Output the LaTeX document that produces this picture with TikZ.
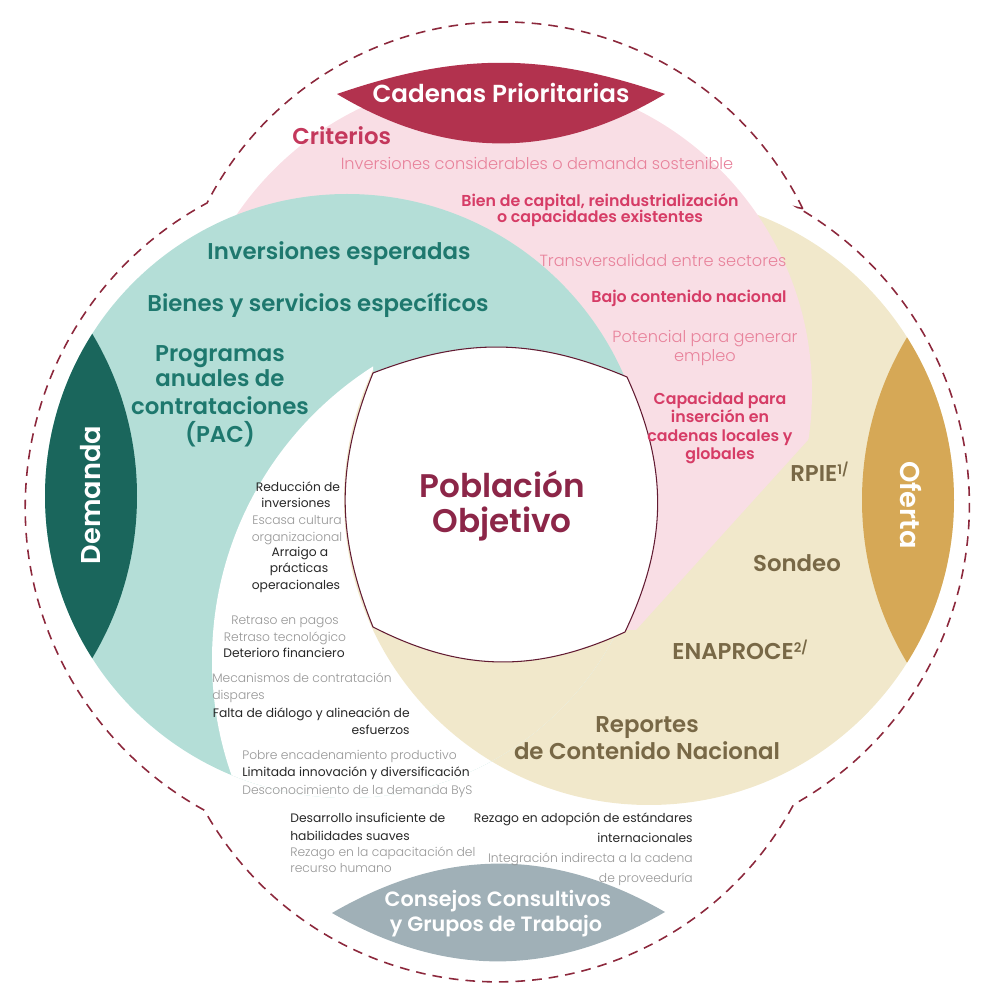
\documentclass[tikz,border=0pt]{standalone}
\usepackage{fontspec}
\setmainfont{Poppins}[BoldFont={Poppins SemiBold}]
\newfontfamily\poplight{Poppins Light}
\usepackage{tikz}
\usetikzlibrary{positioning}

\definecolor{pinkbg}{RGB}{249,222,229}
\definecolor{tealbg}{RGB}{180,222,215}
\definecolor{beigebg}{RGB}{241,232,203}
\definecolor{cadenasred}{RGB}{178,50,78}
\definecolor{demandagreen}{RGB}{26,102,92}
\definecolor{ofertagold}{RGB}{214,168,86}
\definecolor{consejosgray}{RGB}{160,176,183}
\definecolor{pinkhead}{RGB}{196,56,92}
\definecolor{pinkbold}{RGB}{214,60,102}
\definecolor{pinklite}{RGB}{232,130,155}
\definecolor{tealtext}{RGB}{30,120,110}
\definecolor{beigetext}{RGB}{120,104,70}
\definecolor{maroon}{RGB}{140,38,72}
\definecolor{dashred}{RGB}{140,40,60}
\definecolor{darktext}{RGB}{40,40,40}
\definecolor{litetext}{RGB}{150,150,150}

\newcommand{\supmark}[1]{\raisebox{4.5pt}{\fontsize{7.5}{8}\selectfont #1}}

\begin{document}
\begin{tikzpicture}[x=0.02cm, y=0.02cm,
    every node/.style={inner sep=0pt},
    lenstxt/.style={text=white, font=\bfseries\fontsize{14}{16}\selectfont},
    sidetxt/.style={text=white, font=\bfseries\fontsize{15.5}{17}\selectfont},
    pinkhd/.style={text=pinkhead, font=\bfseries\fontsize{13}{15}\selectfont},
    pinklt/.style={text=pinklite, font=\poplight\fontsize{9.2}{11}\selectfont},
    pinkbf/.style={text=pinkbold, font=\bfseries\fontsize{9}{11}\selectfont},
    tealbf/.style={text=tealtext, font=\bfseries\fontsize{13}{15}\selectfont},
    beigebf/.style={text=beigetext, font=\bfseries\fontsize{13}{15}\selectfont},
    darksm/.style={text=darktext, font=\fontsize{7}{9}\selectfont},
    litesm/.style={text=litetext, font=\poplight\fontsize{7}{9}\selectfont},
    centertxt/.style={text=maroon, font=\bfseries\fontsize{18.6}{21}\selectfont},
    dashline/.style={draw=dashred, line width=0.9pt, dash pattern=on 5.5pt off 4pt}
]
\useasboundingbox (0,0) rectangle (981,992);

% Circles
\fill[beigebg] (649,492) circle[radius=305];
\begin{scope}
    \clip (636,362) -- (1238,1027) -- (1238,1100) -- (-100,1100) -- (-100,362) -- cycle;
    \fill[pinkbg] (497,600) circle[radius=315];
\end{scope}
\fill[tealbg] (347,496) circle[radius=302];
\begin{scope}
    \clip (347,496) circle[radius=302];
    \clip (373,617) -- (900,417) -- (900,-100) -- (-100,-100) -- (-100,1100) -- (373,1100) -- cycle;
    \fill[white] (560,332) circle[radius=348];
    \clip (560,332) circle[radius=348];
    \fill[beigebg] (649,492) circle[radius=305];
\end{scope}

% Lenses
\fill[cadenasred] (337,898) to[bend left=19] (665,898) to[bend left=31] (337,898) -- cycle;
\fill[consejosgray] (332,79) to[bend left=30] (665,80) to[bend left=30] (332,79) -- cycle;
\begin{scope}
    \clip (347,496) circle[radius=302];
    \fill[demandagreen] (-179,496) circle[radius=316];
\end{scope}
\begin{scope}
    \clip (649,492) circle[radius=305];
    \fill[ofertagold] (1178,492) circle[radius=316];
\end{scope}

% Outer dashed outline
\draw[dashline] (802.8,783.3) arc[start angle=26.1, end angle=152.8, radius=333.3]
    arc[start angle=118.3, end angle=241.2, radius=345.7]
    arc[start angle=209.3, end angle=331.8, radius=336]
    arc[start angle=-60.8, end angle=60.07, radius=343.3] -- cycle;

% Center square
\draw[line width=0.6pt, draw=maroon!70!black, fill=white] (373,619) to[bend left=22] (627,615)
    to[bend left=25] (625,360) to[bend left=26] (373,365) to[bend left=22] (373,619) -- cycle;
\node[centertxt, anchor=base] (pob) at (502,494) {Población};
\node[centertxt, anchor=base] (obj) at (502,459) {Objetivo};

% Lens labels
\node[lenstxt, anchor=base] (cadenas) at (501,889) {Cadenas Prioritarias};
\node[sidetxt, rotate=90] (demanda) at (91,497) {Demanda};
\node[sidetxt, rotate=-90] (oferta) at (911,487) {Oferta};
\node[lenstxt, font=\bfseries\fontsize{11.8}{14}\selectfont, anchor=base] (consejos) at (498,85) {Consejos Consultivos};
\node[lenstxt, font=\bfseries\fontsize{11.8}{14}\selectfont, anchor=base] (grupos) at (496,60) {y Grupos de Trabajo};

% Cadenas Prioritarias
\node[pinkhd, anchor=base west] (crit) at (292,847) {Criterios};
\node[pinklt, anchor=base] (invcons) at (537,822) {Inversiones considerables o demanda sostenible};
\node[pinkbf, anchor=base] (bien) at (600,785) {Bien de capital, reindustrialización};
\node[pinkbf, anchor=base] (capex) at (600,769) {o capacidades existentes};
\node[pinklt, anchor=base] (transv) at (663,725) {Transversalidad entre sectores};
\node[pinkbf, anchor=base] (bajo) at (689,689) {Bajo contenido nacional};
\node[pinklt, anchor=base] (pot) at (705,649) {Potencial para generar};
\node[pinklt, anchor=base] (empleo) at (705,630) {empleo};
\node[pinkbf, anchor=base] (capa) at (720,587) {Capacidad para};
\node[pinkbf, anchor=base] (ins) at (720,569) {inserción en};
\node[pinkbf, anchor=base] (cloc) at (720,550) {cadenas locales y};
\node[pinkbf, anchor=base] (glob) at (720,532) {globales};

% Demanda
\node[tealbf, anchor=base] (invesp) at (339,732) {Inversiones esperadas};
\node[tealbf, anchor=base] (bienes) at (318,680) {Bienes y servicios específicos};
\node[tealbf, anchor=base] (prog) at (220,630) {Programas};
\node[tealbf, anchor=base] (anual) at (220,605) {anuales de};
\node[tealbf, anchor=base] (contr) at (220,577) {contrataciones};
\node[tealbf, anchor=base] (pac) at (220,549) {(PAC)};

% Oferta
\node[beigebf, anchor=base west] (rpie) at (790,510) {RPIE\supmark{1/}};
\node[beigebf, anchor=base] (sondeo) at (797,420) {Sondeo};
\node[beigebf, anchor=base west] (enap) at (672,332) {ENAPROCE\supmark{2/}};
\node[beigebf, anchor=base] (rep) at (647,259) {Reportes};
\node[beigebf, anchor=base] (rcn) at (647,232) {de Contenido Nacional};

% Problemas
\node[darksm, anchor=base] (red1) at (298,500) {Reducción de};
\node[darksm, anchor=base] (red2) at (296,484) {inversiones};
\node[litesm, anchor=base] (esc1) at (297,467) {Escasa cultura};
\node[litesm, anchor=base] (esc2) at (297,450) {organizacional};
\node[darksm, anchor=base] (arr1) at (300,435) {Arraigo a};
\node[darksm, anchor=base] (arr2) at (299,419) {prácticas};
\node[darksm, anchor=base] (arr3) at (296,402) {operacionales};
\node[litesm, anchor=base] (ret1) at (285,367) {Retraso en pagos};
\node[litesm, anchor=base] (ret2) at (285,350) {Retraso tecnológico};
\node[darksm, anchor=base] (det) at (284,334) {Deterioro financiero};
\node[litesm, anchor=base west] (mec1) at (212,309) {Mecanismos de contratación};
\node[litesm, anchor=base west] (mec2) at (212,292) {dispares};
\node[darksm, anchor=base east] (fal1) at (410,274) {Falta de diálogo y alineación de};
\node[darksm, anchor=base east] (fal2) at (410,257) {esfuerzos};
\node[litesm, anchor=base west] (pob1) at (242,232) {Pobre encadenamiento productivo};
\node[darksm, anchor=base west] (lim) at (242,215) {Limitada innovación y diversificación};
\node[litesm, anchor=base west] (desc) at (242,197) {Desconocimiento de la demanda ByS};
\node[darksm, anchor=base west] (des1) at (290,169) {Desarrollo insuficiente de};
\node[darksm, anchor=base west] (des2) at (290,152) {habilidades suaves};
\node[litesm, anchor=base west] (rez1) at (290,135) {Rezago en la capacitación del};
\node[litesm, anchor=base west] (rez2) at (290,119) {recurso humano};
\node[darksm, anchor=base east] (ado1) at (693,169) {Rezago en adopción de estándares};
\node[darksm, anchor=base east] (ado2) at (693,149) {internacionales};
\node[litesm, anchor=base east] (int1) at (693,130) {Integración indirecta a la cadena};
\node[litesm, anchor=base east] (int2) at (693,110) {de proveeduría};

\end{tikzpicture}
\end{document}
